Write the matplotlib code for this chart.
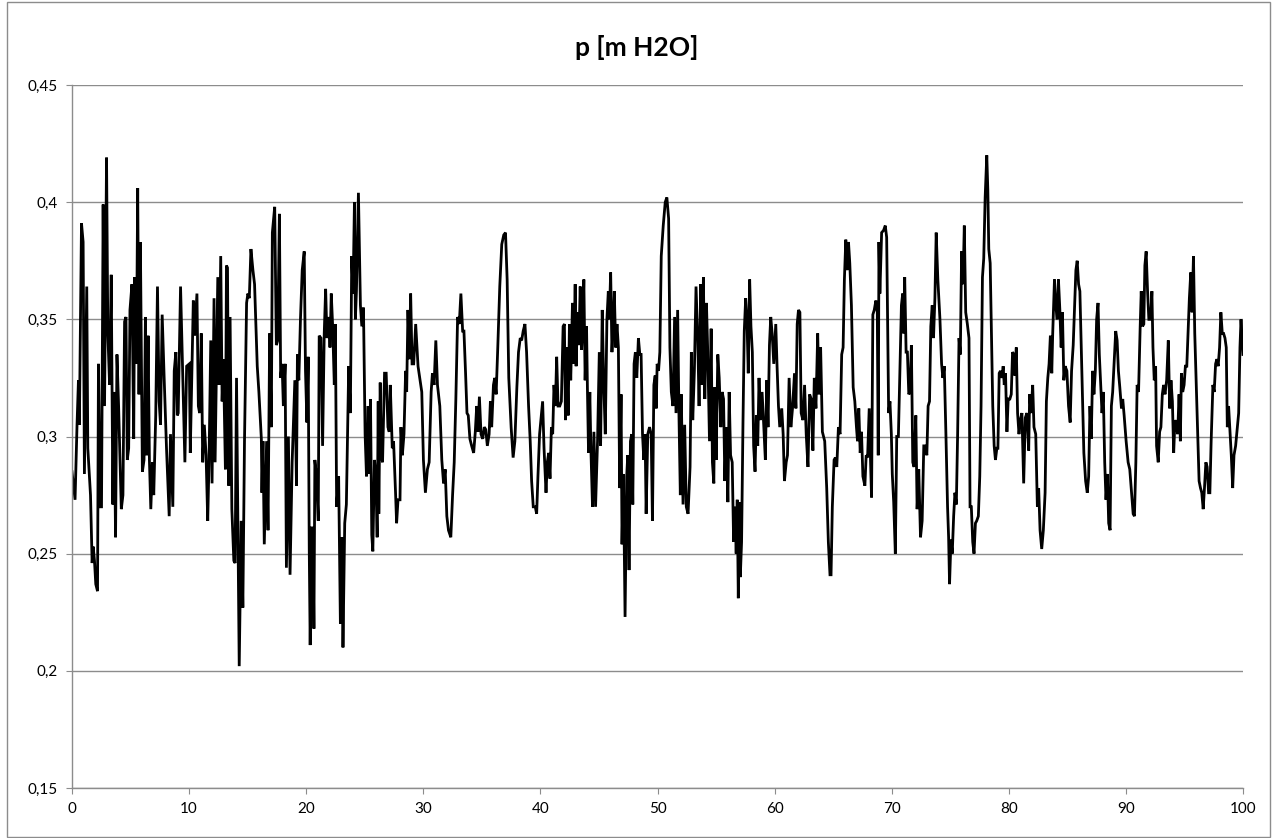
import matplotlib
matplotlib.use("Agg")
from matplotlib import pyplot as plt
from matplotlib.patches import Rectangle
import matplotlib.ticker as mtick

title = "p [m H2O]"

# time axis
t = [0.0, 0.26, 0.43, 0.55, 0.63, 0.81, 0.95, 1.06, 1.26, 1.35, 1.58, 1.72, 1.81, 1.92, 2.03, 2.18, 2.26, 2.41, 2.52, 2.66,
     2.78, 2.95, 3.06, 3.21, 3.35, 3.49, 3.58, 3.72, 3.84, 3.98, 4.21, 4.35, 4.49, 4.61, 4.72, 4.84, 4.95, 5.12, 5.27, 5.35,
     5.50, 5.61, 5.72, 5.84, 6.01, 6.15, 6.27, 6.38, 6.50, 6.61, 6.73, 6.87, 6.98, 7.15, 7.30, 7.44, 7.56, 7.70, 7.87, 8.07,
     8.30, 8.41, 8.61, 8.73, 8.87, 8.99, 9.07, 9.27,
     9.64, 9.79, 10.02, 10.10, 10.36, 10.47, 10.67, 10.79, 10.90, 11.04, 11.16, 11.30, 11.45, 11.59, 11.70, 11.85, 11.96,
     12.13, 12.22, 12.45, 12.56, 12.70, 12.82, 12.93, 13.10, 13.19, 13.28, 13.39, 13.50, 13.65, 13.82, 13.93, 14.05, 14.28,
     14.45, 14.59, 14.73, 14.91, 15.02, 15.14, 15.28, 15.45, 15.59, 15.82, 15.96, 16.17, 16.22, 16.31, 16.42, 16.62, 16.74,
     16.88, 17.02, 17.11, 17.31, 17.45, 17.57, 17.71, 17.82, 17.94, 18.05, 18.20, 18.31, 18.48, 18.62, 18.80, 19.03, 19.17,
     19.25, 19.37, 19.51, 19.66, 19.83, 19.94, 20.06, 20.17, 20.26,
     20.34, 20.46, 20.56, 20.66, 20.74, 20.88, 21.03, 21.11, 21.26, 21.40, 21.54, 21.66, 21.77, 21.94, 22.03, 22.14, 22.26,
     22.40, 22.49, 22.60, 22.77, 22.92, 23.06, 23.14, 23.29, 23.43, 23.63, 23.77, 23.89, 24.00, 24.12, 24.20, 24.29, 24.46,
     24.63, 24.75, 24.89, 25.03, 25.15, 25.29, 25.38, 25.49, 25.60, 25.69, 25.83, 25.95, 26.06, 26.15, 26.20, 26.32, 26.41,
     26.52, 26.69, 26.83, 26.98, 27.09, 27.18, 27.35, 27.46, 27.63, 27.72, 27.84, 28.01, 28.09, 28.21, 28.35, 28.49, 28.58,
     28.69, 28.81, 28.92, 29.04, 29.18, 29.35, 29.55,
     29.87, 30.01, 30.18, 30.35, 30.50, 30.67, 30.78, 30.92, 31.07, 31.21, 31.41, 31.58, 31.73, 31.87, 32.01, 32.15, 32.35,
     32.50, 32.64, 32.78, 32.93, 33.07, 33.21, 33.36, 33.47, 33.61, 33.73, 33.84, 33.98, 34.13, 34.30, 34.44, 34.56, 34.67,
     34.79, 34.93, 35.07, 35.21, 35.33, 35.47, 35.62, 35.73, 35.84, 35.99, 36.10, 36.22, 36.36, 36.53, 36.70, 36.87, 37.02,
     37.16, 37.30, 37.50, 37.67, 37.82, 37.99, 38.13, 38.28, 38.40, 38.53, 38.68, 38.82, 38.99, 39.13, 39.25, 39.39, 39.56,
     39.68, 39.79, 39.93,
     40.19, 40.31, 40.48, 40.59, 40.71, 40.82, 40.94, 41.05, 41.16, 41.28, 41.39, 41.51, 41.65, 41.79, 41.94, 42.05, 42.14,
     42.25, 42.37, 42.48, 42.59, 42.74, 42.85, 42.97, 43.05, 43.17, 43.28, 43.40, 43.51, 43.62, 43.71, 43.82, 43.94, 44.02,
     44.11, 44.22, 44.31, 44.45, 44.57, 44.71, 44.88, 45.03, 45.14, 45.28, 45.40, 45.54, 45.68, 45.80, 45.88, 46.00, 46.11,
     46.23, 46.31, 46.43, 46.54, 46.66, 46.77, 46.89, 46.97, 47.09, 47.23, 47.37, 47.46, 47.57, 47.69, 47.80, 47.89, 48.00,
     48.11, 48.23, 48.37, 48.49, 48.60, 48.72, 48.83, 48.94, 49.03, 49.17, 49.32, 49.46, 49.57, 49.69, 49.80, 49.89, 49.97,
     50.09, 50.20, 50.32, 50.49, 50.66, 50.80, 50.95,
     51.06, 51.18, 51.32, 51.46, 51.58, 51.72, 51.83, 51.95, 52.03, 52.18, 52.32, 52.46, 52.61, 52.78, 52.89, 53.01, 53.15,
     53.29, 53.44, 53.55, 53.69, 53.81, 53.92, 54.04, 54.18, 54.29, 54.44, 54.58, 54.69, 54.81, 54.89, 55.01, 55.15, 55.27,
     55.41, 55.52, 55.64, 55.75, 55.87, 56.01, 56.12, 56.24, 56.38, 56.50, 56.61, 56.72, 56.81, 56.90, 56.98, 57.07, 57.18,
     57.30, 57.41, 57.53, 57.64, 57.75, 57.87, 57.98, 58.10, 58.21, 58.33, 58.44, 58.56, 58.67, 58.78, 58.93, 59.07, 59.21,
     59.33, 59.44, 59.56, 59.67, 59.79, 59.93, 60.10, 60.21, 60.33, 60.44,
     60.61, 60.73, 60.84, 60.99, 61.10, 61.24, 61.39, 61.53, 61.70, 61.82, 61.93, 62.04, 62.16, 62.27, 62.42, 62.56, 62.70,
     62.85, 62.99, 63.13, 63.27, 63.39, 63.53, 63.68, 63.79, 63.93, 64.08, 64.28, 64.45, 64.59, 64.73, 64.82, 64.93, 65.08,
     65.19, 65.31, 65.45, 65.59, 65.73, 65.85, 65.96, 66.08, 66.19, 66.31, 66.42, 66.56, 66.71, 66.85, 66.99, 67.08, 67.19,
     67.31, 67.42, 67.54, 67.71, 67.82, 67.94, 68.08, 68.19, 68.28, 68.39, 68.51, 68.65, 68.77, 68.85, 68.91, 68.99, 69.14,
     69.31, 69.45, 69.57, 69.65, 69.74, 69.85, 69.97, 70.05, 70.17, 70.31, 70.43, 70.57, 70.71,
     70.83, 70.94, 71.03, 71.11, 71.23, 71.34, 71.46, 71.57, 71.68, 71.80, 71.91, 72.06, 72.17, 72.31, 72.46, 72.60, 72.74,
     72.89, 73.00, 73.11, 73.23, 73.34, 73.46, 73.57, 73.69, 73.80, 73.94, 74.12, 74.26, 74.37, 74.49, 74.63, 74.77, 74.86,
     74.94, 75.06, 75.17, 75.29, 75.40, 75.52, 75.63, 75.75, 75.86, 75.97, 76.09, 76.20, 76.32, 76.46, 76.60, 76.69, 76.80,
     76.92, 77.03, 77.15, 77.26, 77.40, 77.52, 77.63, 77.75, 77.86, 77.98, 78.12, 78.21, 78.29, 78.41, 78.52, 78.63, 78.75,
     78.86, 78.98, 79.07, 79.18, 79.29, 79.41, 79.52, 79.61, 79.72, 79.84, 79.95, 80.09, 80.21, 80.32, 80.44, 80.52, 80.64,
     80.75, 80.87,
     80.98, 81.12, 81.27, 81.41, 81.55, 81.70, 81.78, 81.90, 82.04, 82.15, 82.30, 82.44, 82.55, 82.67, 82.81, 82.95, 83.10,
     83.21, 83.33, 83.44, 83.55, 83.67, 83.75, 83.90, 84.01, 84.13, 84.24, 84.36, 84.47, 84.58, 84.70, 84.81, 84.96, 85.10,
     85.24, 85.36, 85.50, 85.61, 85.73, 85.84, 85.96, 86.07, 86.19, 86.30, 86.41, 86.56, 86.70, 86.82, 86.93, 87.04, 87.16,
     87.27, 87.39, 87.50, 87.62, 87.73, 87.85, 87.96, 88.07, 88.19, 88.30, 88.42, 88.53, 88.65, 88.76, 88.87, 88.99, 89.13,
     89.25, 89.36, 89.48, 89.62, 89.73, 89.85, 90.02, 90.19, 90.33, 90.48, 90.62, 90.73, 90.85, 90.96, 91.08,
     91.22, 91.31, 91.42, 91.53, 91.62, 91.73, 91.85, 91.96, 92.11, 92.22, 92.31, 92.42, 92.54, 92.62, 92.76, 92.88, 92.99,
     93.11, 93.22, 93.34, 93.48, 93.62, 93.74, 93.85, 93.97, 94.08, 94.19, 94.31, 94.42, 94.54, 94.65, 94.74, 94.85, 94.97,
     95.08, 95.20, 95.31, 95.42, 95.54, 95.65, 95.77, 95.88, 96.03, 96.14, 96.25, 96.37, 96.48, 96.60, 96.71, 96.83, 96.94,
     97.06, 97.17, 97.28, 97.43, 97.54, 97.66, 97.77, 97.88, 98.00, 98.11, 98.23, 98.34, 98.46, 98.57, 98.66, 98.77, 98.89,
     99.00, 99.12, 99.23, 99.37, 99.52, 99.63, 99.74, 99.83, 100.0]

# pressure [m H2O]
p = [0.285, 0.273, 0.305, 0.324, 0.305, 0.391, 0.383, 0.284, 0.364, 0.295, 0.275, 0.246, 0.253, 0.247, 0.237, 0.234, 0.331, 0.270, 0.270, 0.399,
     0.313, 0.419, 0.344, 0.322, 0.369, 0.271, 0.319, 0.257, 0.335, 0.313, 0.269, 0.275, 0.349, 0.351, 0.290, 0.295, 0.354, 0.365, 0.299, 0.368,
     0.331, 0.406, 0.318, 0.383, 0.285, 0.290, 0.351, 0.292, 0.343, 0.290, 0.269, 0.289, 0.275, 0.309, 0.364, 0.315, 0.305, 0.352, 0.325, 0.295,
     0.266, 0.301, 0.270, 0.328, 0.336, 0.309, 0.310, 0.364,
     0.289, 0.330, 0.331, 0.293, 0.358, 0.343, 0.361, 0.313, 0.310, 0.344, 0.289, 0.305, 0.292, 0.264, 0.289, 0.341, 0.280,
     0.359, 0.289, 0.368, 0.322, 0.377, 0.315, 0.333, 0.286, 0.373, 0.372, 0.279, 0.351, 0.269, 0.247, 0.246, 0.325, 0.202,
     0.264, 0.227, 0.298, 0.357, 0.361, 0.359, 0.380, 0.371, 0.365, 0.330, 0.319, 0.299, 0.276, 0.298, 0.254, 0.298, 0.260,
     0.344, 0.304, 0.387, 0.398, 0.339, 0.341, 0.395, 0.325, 0.331, 0.313, 0.331, 0.244, 0.300, 0.241, 0.289, 0.324, 0.279,
     0.335, 0.324, 0.350, 0.371, 0.379, 0.328, 0.306, 0.334, 0.252,
     0.211, 0.261, 0.261, 0.218, 0.290, 0.283, 0.264, 0.343, 0.342, 0.296, 0.344, 0.363, 0.342, 0.351, 0.338, 0.361, 0.347,
     0.322, 0.348, 0.270, 0.283, 0.220, 0.257, 0.210, 0.263, 0.271, 0.330, 0.310, 0.377, 0.361, 0.400, 0.350, 0.362, 0.404,
     0.356, 0.347, 0.355, 0.301, 0.283, 0.313, 0.284, 0.316, 0.258, 0.251, 0.290, 0.283, 0.257, 0.315, 0.267, 0.323, 0.292,
     0.289, 0.327, 0.327, 0.304, 0.302, 0.322, 0.295, 0.298, 0.276, 0.263, 0.273, 0.273, 0.304, 0.292, 0.301, 0.328, 0.319,
     0.354, 0.333, 0.361, 0.331, 0.331, 0.348, 0.330,
     0.319, 0.290, 0.276, 0.286, 0.289, 0.319, 0.327, 0.322, 0.341, 0.322, 0.313, 0.290, 0.280, 0.286, 0.266, 0.260, 0.257,
     0.275, 0.289, 0.316, 0.351, 0.348, 0.361, 0.345, 0.345, 0.327, 0.310, 0.309, 0.299, 0.296, 0.293, 0.302, 0.313, 0.302,
     0.317, 0.301, 0.299, 0.304, 0.303, 0.296, 0.301, 0.315, 0.304, 0.322, 0.325, 0.318, 0.338, 0.364, 0.382, 0.386, 0.387,
     0.367, 0.325, 0.304, 0.291, 0.298, 0.321, 0.336, 0.342, 0.341, 0.345, 0.348, 0.336, 0.313, 0.298, 0.281, 0.270, 0.270,
     0.267, 0.283, 0.301,
     0.315, 0.295, 0.276, 0.289, 0.293, 0.282, 0.304, 0.301, 0.322, 0.313, 0.334, 0.313, 0.313, 0.315, 0.347, 0.348, 0.307,
     0.338, 0.309, 0.348, 0.324, 0.357, 0.331, 0.365, 0.330, 0.353, 0.339, 0.364, 0.337, 0.348, 0.367, 0.324, 0.347, 0.319,
     0.293, 0.319, 0.295, 0.270, 0.302, 0.270, 0.298, 0.336, 0.296, 0.354, 0.324, 0.301, 0.350, 0.362, 0.350, 0.370, 0.336,
     0.350, 0.362, 0.338, 0.348, 0.338, 0.278, 0.318, 0.254, 0.284, 0.223, 0.283, 0.292, 0.243, 0.298, 0.301, 0.271, 0.331,
     0.336, 0.325, 0.342, 0.335, 0.335, 0.301, 0.290, 0.301, 0.267, 0.301, 0.304, 0.301, 0.264, 0.322, 0.326, 0.312, 0.331,
     0.328, 0.336, 0.377, 0.390, 0.400, 0.402, 0.393,
     0.338, 0.319, 0.313, 0.351, 0.310, 0.354, 0.310, 0.275, 0.318, 0.271, 0.305, 0.270, 0.267, 0.287, 0.336, 0.307, 0.328,
     0.364, 0.341, 0.313, 0.365, 0.322, 0.368, 0.316, 0.357, 0.336, 0.298, 0.346, 0.289, 0.280, 0.321, 0.290, 0.335, 0.325,
     0.304, 0.319, 0.316, 0.281, 0.304, 0.272, 0.319, 0.292, 0.289, 0.255, 0.270, 0.250, 0.273, 0.231, 0.272, 0.240, 0.255,
     0.306, 0.345, 0.359, 0.350, 0.327, 0.367, 0.347, 0.336, 0.296, 0.285, 0.309, 0.296, 0.325, 0.307, 0.319, 0.305, 0.290,
     0.324, 0.304, 0.339, 0.351, 0.344, 0.331, 0.348, 0.330, 0.313, 0.304,
     0.312, 0.301, 0.281, 0.289, 0.292, 0.325, 0.304, 0.312, 0.327, 0.312, 0.348, 0.354, 0.353, 0.310, 0.307, 0.322, 0.301,
     0.287, 0.318, 0.316, 0.294, 0.325, 0.312, 0.344, 0.318, 0.338, 0.302, 0.298, 0.278, 0.255, 0.241, 0.241, 0.270, 0.290,
     0.291, 0.287, 0.304, 0.301, 0.335, 0.338, 0.367, 0.384, 0.371, 0.383, 0.374, 0.356, 0.321, 0.315, 0.304, 0.298, 0.312,
     0.293, 0.302, 0.283, 0.279, 0.292, 0.291, 0.312, 0.290, 0.274, 0.352, 0.354, 0.358, 0.353, 0.292, 0.383, 0.361, 0.387,
     0.388, 0.390, 0.385, 0.348, 0.310, 0.315, 0.301, 0.284, 0.272, 0.250, 0.300, 0.300, 0.330,
     0.356, 0.361, 0.344, 0.368, 0.336, 0.336, 0.318, 0.319, 0.339, 0.289, 0.287, 0.309, 0.269, 0.286, 0.257, 0.264, 0.296,
     0.296, 0.292, 0.313, 0.315, 0.347, 0.356, 0.342, 0.359, 0.387, 0.367, 0.350, 0.331, 0.325, 0.330, 0.301, 0.270, 0.257,
     0.237, 0.256, 0.250, 0.266, 0.276, 0.271, 0.301, 0.342, 0.335, 0.379, 0.365, 0.390, 0.353, 0.348, 0.342, 0.270, 0.270,
     0.255, 0.250, 0.263, 0.264, 0.266, 0.283, 0.313, 0.368, 0.376, 0.402, 0.420, 0.405, 0.380, 0.374, 0.344, 0.313, 0.296,
     0.290, 0.295, 0.295, 0.327, 0.328, 0.325, 0.330, 0.322, 0.327, 0.302, 0.316, 0.316, 0.318, 0.336, 0.335, 0.326, 0.338,
     0.310, 0.301,
     0.307, 0.310, 0.280, 0.308, 0.310, 0.294, 0.318, 0.310, 0.322, 0.304, 0.301, 0.270, 0.278, 0.260, 0.252, 0.260, 0.276,
     0.315, 0.325, 0.331, 0.343, 0.327, 0.344, 0.367, 0.356, 0.350, 0.367, 0.354, 0.338, 0.353, 0.324, 0.330, 0.328, 0.313,
     0.306, 0.328, 0.339, 0.354, 0.371, 0.375, 0.365, 0.362, 0.338, 0.315, 0.293, 0.281, 0.276, 0.283, 0.313, 0.299, 0.328,
     0.318, 0.328, 0.350, 0.357, 0.335, 0.322, 0.310, 0.319, 0.289, 0.273, 0.284, 0.263, 0.260, 0.313, 0.319, 0.331, 0.345,
     0.341, 0.328, 0.321, 0.312, 0.316, 0.309, 0.298, 0.289, 0.286, 0.276, 0.267, 0.266, 0.289, 0.322, 0.319,
     0.347, 0.362, 0.347, 0.348, 0.373, 0.379, 0.362, 0.350, 0.350, 0.362, 0.338, 0.324, 0.330, 0.296, 0.289, 0.302, 0.304,
     0.318, 0.322, 0.318, 0.324, 0.341, 0.312, 0.324, 0.315, 0.293, 0.307, 0.305, 0.301, 0.318, 0.298, 0.327, 0.319, 0.322,
     0.330, 0.330, 0.344, 0.359, 0.370, 0.353, 0.377, 0.344, 0.318, 0.298, 0.281, 0.278, 0.276, 0.269, 0.278, 0.289, 0.287,
     0.276, 0.276, 0.298, 0.322, 0.319, 0.331, 0.333, 0.330, 0.338, 0.353, 0.344, 0.344, 0.342, 0.338, 0.304, 0.313, 0.302,
     0.292, 0.278, 0.292, 0.296, 0.304, 0.310, 0.338, 0.350, 0.335]

xticks = [0, 10, 20, 30, 40, 50, 60, 70, 80, 90, 100]
yticks = [0.15, 0.2, 0.25, 0.3, 0.35, 0.4, 0.45]

plt.rcParams['font.family'] = ['Lato', 'DejaVu Sans']

W, H = 1273, 838
fig = plt.figure(figsize=(W / 100, H / 100), dpi=100)
ax = fig.add_axes([72 / W, 1 - 788 / H, (1243 - 72) / W, (788 - 85) / H])

ax.plot(t, p, color='black', lw=2.0, solid_joinstyle='miter')

ax.set_xlim(0, 100)
ax.set_ylim(0.15, 0.45)
ax.set_xticks(xticks)
ax.set_yticks(yticks)
ax.yaxis.set_major_formatter(mtick.FuncFormatter(lambda v, pos: ("%g" % round(v, 2)).replace(".", ",")))
ax.grid(axis='y', color='#8c8c8c', lw=1)
ax.set_axisbelow(True)
for s in ['top', 'right']:
	ax.spines[s].set_visible(False)
for s in ['left', 'bottom']:
	ax.spines[s].set_color('#8c8c8c')
	ax.spines[s].set_linewidth(1)
ax.tick_params(axis='both', direction='out', length=4, color='#8c8c8c', labelsize=11, labelcolor='black')
ax.tick_params(axis='y', pad=6)
ax.tick_params(axis='x', pad=6)

fig.text(0.5, 1 - 47 / H, title, ha='center', va='center', fontsize=19, fontweight='bold')

# chart area border
fig.patches.append(Rectangle((7 / W, 1 / H), (1270 - 7) / W, (836 - 1) / H, transform=fig.transFigure,
                             fill=False, edgecolor='#8c8c8c', lw=1))

fig.savefig('out.png', dpi=100)
